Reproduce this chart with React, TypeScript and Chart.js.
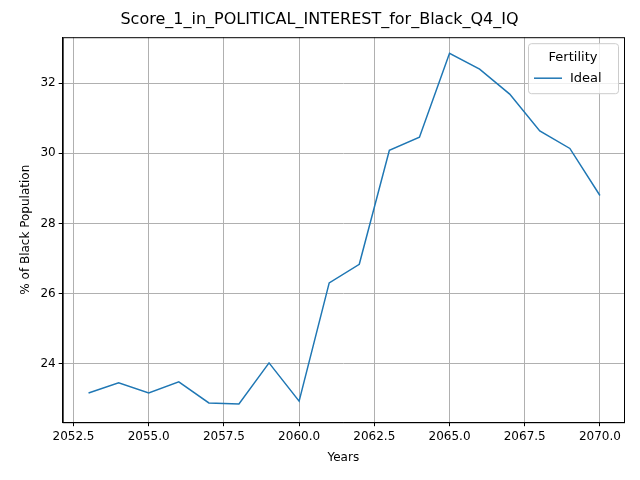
import { useEffect, useRef } from "react";
import { Chart, registerables } from "chart.js";

Chart.register(...registerables);

const years = [2053, 2054, 2055, 2056, 2057, 2058, 2059, 2060, 2061, 2062, 2063, 2064, 2065, 2066, 2067, 2068, 2069, 2070];
const ideal = [23.17, 23.46, 23.17, 23.49, 22.89, 22.86, 24.03, 22.94, 26.31, 26.84, 30.09, 30.46, 32.85, 32.4, 31.69, 30.64, 30.14, 28.8];
const xTicks = [2052.5, 2055, 2057.5, 2060, 2062.5, 2065, 2067.5, 2070];
const yTicks = [24, 26, 28, 30, 32];

const font = "DejaVu Sans";

const legendBox = {
  id: "legendBox",
  afterDraw(chart: any) {
    const { ctx, chartArea } = chart;
    ctx.save();
    ctx.strokeStyle = "#000";
    ctx.lineWidth = 1;
    ctx.strokeRect(chartArea.left + 0.5, chartArea.top + 0.5, chartArea.right - chartArea.left, chartArea.bottom - chartArea.top);
    const w = 90, h = 50;
    const x = chartArea.right - w - 6, y = chartArea.top + 6;
    ctx.fillStyle = "rgba(255,255,255,0.8)";
    ctx.strokeStyle = "#cccccc";
    ctx.beginPath();
    ctx.roundRect(x + 0.5, y + 0.5, w, h, 3);
    ctx.fill();
    ctx.stroke();
    ctx.fillStyle = "#000";
    ctx.font = `13px "${font}"`;
    ctx.textAlign = "center";
    ctx.textBaseline = "middle";
    ctx.fillText("Fertility", x + w / 2, y + 14);
    ctx.strokeStyle = "#1f77b4";
    ctx.lineWidth = 1.5;
    ctx.beginPath();
    ctx.moveTo(x + 6, y + 35);
    ctx.lineTo(x + 34, y + 35);
    ctx.stroke();
    ctx.textAlign = "left";
    ctx.fillText("Ideal", x + 42, y + 35);
    ctx.restore();
  },
};

export default function App() {
  const ref = useRef<HTMLCanvasElement | null>(null);

  useEffect(() => {
    document.body.style.margin = "0";
    if (!ref.current) return;
    const chart = new Chart(ref.current, {
      type: "line",
      data: {
        datasets: [
          {
            label: "Ideal",
            data: years.map((y, i) => ({ x: y, y: ideal[i] })),
            borderColor: "#1f77b4",
            borderWidth: 1.5,
            pointRadius: 0,
            fill: false,
          },
        ],
      },
      options: {
        animation: false,
        responsive: false,
        layout: { padding: { left: 15, right: 16, top: 0, bottom: 11 } },
        plugins: {
          legend: { display: false },
          tooltip: { enabled: false },
          title: {
            display: true,
            text: "Score_1_in_POLITICAL_INTEREST_for_Black_Q4_IQ",
            color: "#000",
            font: { family: font, size: 16, weight: "normal" },
            padding: { top: 10, bottom: 8 },
          },
        },
        scales: {
          x: {
            type: "linear",
            min: 2052.14,
            max: 2070.8,
            afterBuildTicks: (axis: any) => {
              axis.ticks = xTicks.map((v) => ({ value: v }));
            },
            ticks: {
              color: "#000",
              font: { family: font, size: 12 },
              maxRotation: 0,
              callback: (v: any) => Number(v).toFixed(1),
            },
            grid: { color: "#b0b0b0", tickColor: "#000", tickLength: 4 },
            border: { color: "#000" },
            title: { display: true, text: "Years", color: "#000", font: { family: font, size: 12 } },
          },
          y: {
            min: 22.34,
            max: 33.31,
            afterBuildTicks: (axis: any) => {
              axis.ticks = yTicks.map((v) => ({ value: v }));
            },
            ticks: { color: "#000", font: { family: font, size: 12 } },
            grid: { color: "#b0b0b0", tickColor: "#000", tickLength: 4 },
            border: { color: "#000" },
            title: {
              display: true,
              text: "% of Black Population",
              color: "#000",
              font: { family: font, size: 12 },
            },
          },
        },
      },
      plugins: [legendBox],
    });
    return () => chart.destroy();
  }, []);

  return <canvas ref={ref} width={640} height={480} style={{ display: "block" }} />;
}
